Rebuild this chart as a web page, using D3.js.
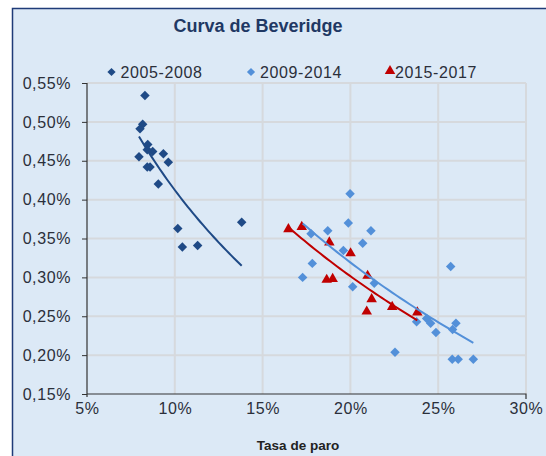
<!DOCTYPE html>
<html>
<head>
<meta charset="utf-8">
<script src="https://cdn.jsdelivr.net/npm/d3@7"></script>
<style>
  body { margin: 0; background: #fff; }
  text { font-family: "Liberation Sans", Arial, sans-serif; }
</style>
</head>
<body>
<svg width="546" height="456"></svg>
<script>
// unemployment rate (%) and vacancy rate (%)
const p1x = [8.30, 8.17, 8.02, 8.46, 8.43, 8.74, 9.35, 7.96, 9.63, 8.43, 8.59, 9.06, 10.17, 10.43, 11.30, 13.81];
const p1y = [0.534, 0.497, 0.491, 0.471, 0.464, 0.462, 0.459, 0.455, 0.448, 0.442, 0.442, 0.420, 0.363, 0.339, 0.341, 0.371];

const p2x = [19.98, 19.88, 18.71, 21.17, 17.76, 20.70, 19.60, 17.83, 17.28, 20.13, 21.36, 25.71, 23.77, 24.34, 24.57, 24.87, 26.01, 25.82, 22.54, 25.80, 26.14, 27.00];
const p2y = [0.4075, 0.370, 0.360, 0.360, 0.356, 0.344, 0.3345, 0.318, 0.300, 0.288, 0.2925, 0.314, 0.243, 0.247, 0.241, 0.229, 0.241, 0.233, 0.2037, 0.1947, 0.1947, 0.1947];

const p3x = [16.47, 17.23, 18.80, 20.01, 18.65, 18.99, 20.98, 21.21, 20.93, 22.38, 23.81];
const p3y = [0.362, 0.365, 0.345, 0.331, 0.297, 0.298, 0.302, 0.272, 0.256, 0.262, 0.255];

const seriesNames = ["2005-2008", "2009-2014", "2015-2017"];
const xTicks = [5, 10, 15, 20, 25, 30];
const yTicks = [0.15, 0.20, 0.25, 0.30, 0.35, 0.40, 0.45, 0.50, 0.55];

const colors = ["#1f4a86", "#5390d9", "#c00000"];

var svg = d3.select("svg");

var x = d3.scaleLinear().domain([5, 30]).range([87, 526]);
var y = d3.scaleLinear().domain([0.15, 0.55]).range([394, 83]);

var loc = d3.formatLocale({ decimal: ",", thousands: ".", grouping: [3], currency: ["", "€"] });
var fy = loc.format(".2f");

// frame
svg.append("rect")
    .attr("x", 12.5).attr("y", 8.5)
    .attr("width", 600).attr("height", 500)
    .attr("fill", "#dce9f6")
    .attr("stroke", "#1f3b78")
    .attr("stroke-width", 1.5);

svg.append("text")
    .attr("x", 258).attr("y", 32)
    .attr("text-anchor", "middle")
    .attr("font-size", 18).attr("font-weight", "bold")
    .attr("fill", "#1f3864")
    .text("Curva de Beveridge");

// grid
svg.append("g").selectAll("line")
    .data(yTicks.slice(1))
    .enter().append("line")
    .attr("x1", x(5)).attr("x2", x(30))
    .attr("y1", d => y(d)).attr("y2", d => y(d))
    .attr("stroke", "#d6d9dd").attr("stroke-width", 2);

svg.append("g").selectAll("line")
    .data(xTicks.slice(1))
    .enter().append("line")
    .attr("x1", d => x(d)).attr("x2", d => x(d))
    .attr("y1", y(0.15)).attr("y2", y(0.55))
    .attr("stroke", "#d6d9dd").attr("stroke-width", 2);

// axes
var yAxis = svg.append("g")
    .attr("transform", `translate(${x(5)},0)`)
    .call(d3.axisLeft(y).tickValues(yTicks).tickSize(5).tickPadding(11).tickFormat(d => fy(d) + "%"));
var xAxis = svg.append("g")
    .attr("transform", `translate(0,${y(0.15)})`)
    .call(d3.axisBottom(x).tickValues(xTicks).tickSize(0).tickPadding(9).tickFormat(d => d + "%"));

[yAxis, xAxis].forEach(a => {
    a.select(".domain").attr("stroke", "#333").attr("stroke-width", 1.2);
    a.selectAll(".tick line").attr("stroke", "#333");
    a.selectAll("text")
        .attr("font-family", "Liberation Sans, Arial, sans-serif")
        .attr("font-size", 16)
        .attr("letter-spacing", 0.6)
        .attr("fill", "#2b2f3a");
});
yAxis.select(".domain").attr("d", `M0,${y(0.55)}V${y(0.15) + 3}`);
xAxis.select(".domain").attr("d", `M${x(5)},0H${x(30)}V5`);

svg.append("text")
    .attr("x", 298).attr("y", 450)
    .attr("text-anchor", "middle")
    .attr("font-size", 13.5).attr("font-weight", "bold")
    .attr("fill", "#222")
    .text("Tasa de paro");

// trend lines: logarithmic least squares fit, as the spreadsheet does
function logFit(xs, ys) {
    var lx = xs.map(Math.log);
    var mx = d3.mean(lx), my = d3.mean(ys);
    var b = d3.sum(lx, (v, i) => (v - mx) * (ys[i] - my)) / d3.sum(lx, v => (v - mx) * (v - mx));
    var a = my - b * mx;
    var ext = d3.extent(xs);
    var pts = d3.range(0, 41).map(i => {
        var xv = ext[0] + (ext[1] - ext[0]) * i / 40;
        return [xv, a + b * Math.log(xv)];
    });
    return pts;
}

var series = [[p1x, p1y], [p2x, p2y], [p3x, p3y]];
var line = d3.line().x(d => x(d[0])).y(d => y(d[1]));

var diamond = d3.symbol(d3.symbolSquare, 45);
var triangle = d3.symbol(d3.symbolTriangle, 48);

// markers (drawing order: dark, red, light)
[0, 2, 1].forEach(k => {
    var s = series[k];
    var pts = s[0].map((v, i) => [v, s[1][i]]);
    svg.append("g").selectAll("path")
        .data(pts)
        .enter().append("path")
        .attr("d", k === 2 ? triangle : diamond)
        .attr("transform", d => `translate(${x(d[0])},${y(d[1])})` + (k === 2 ? "" : " rotate(45)"))
        .attr("fill", colors[k]);
});

series.forEach((s, k) => {
    svg.append("path")
        .datum(logFit(s[0], s[1]))
        .attr("d", line)
        .attr("fill", "none")
        .attr("stroke", colors[k])
        .attr("stroke-width", 2);
});

// legend
var legendX = [111.5, 251, 390];
seriesNames.forEach((name, k) => {
    svg.append("path")
        .attr("d", k === 2 ? triangle : d3.symbol(d3.symbolSquare, 34))
        .attr("transform", `translate(${legendX[k]},${k === 2 ? 71 : 72})` + (k === 2 ? "" : " rotate(45)"))
        .attr("fill", colors[k]);
    svg.append("text")
        .attr("x", legendX[k] + (k === 2 ? 5 : 9)).attr("y", 78)
        .attr("font-size", 16).attr("letter-spacing", 0.6)
        .attr("fill", "#2b2f3a")
        .text(name);
});
</script>
</body>
</html>
